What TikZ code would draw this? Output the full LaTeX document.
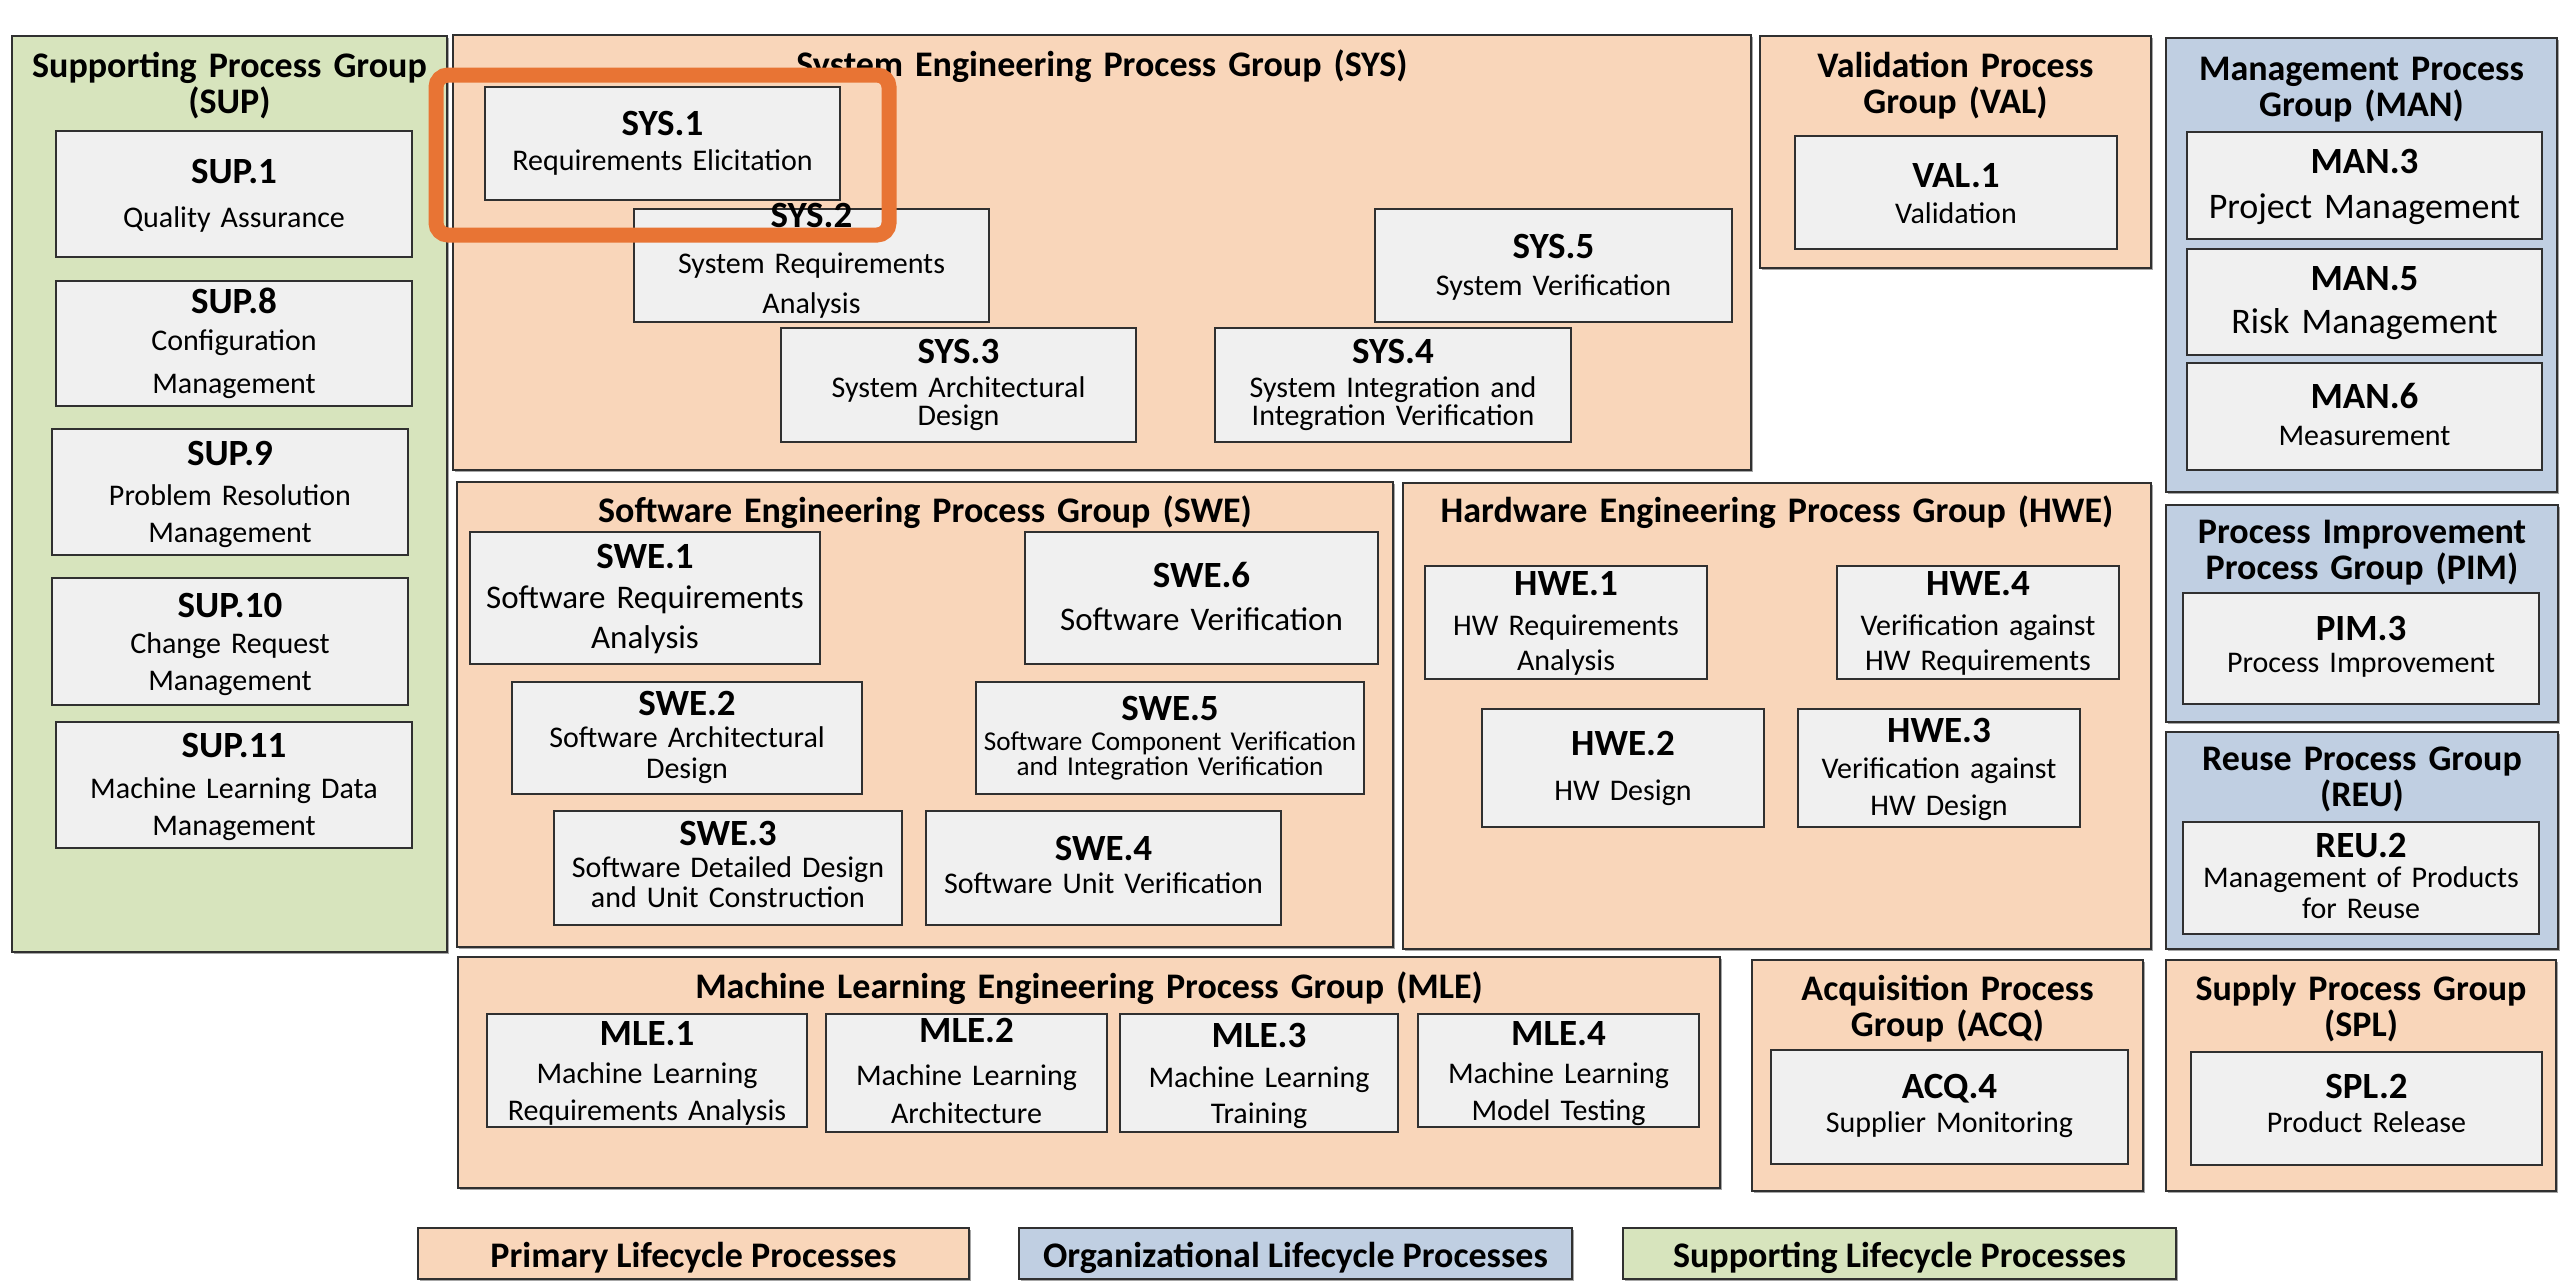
\documentclass[tikz,border=0pt]{standalone}
\usepackage{fontspec}
\setmainfont{Carlito}
\usetikzlibrary{fit,shadows}
\definecolor{peach}{HTML}{F9D6BA}
\definecolor{orgblue}{HTML}{C0CFE2}
\definecolor{supgreen}{HTML}{D7E4BD}
\definecolor{procgray}{HTML}{F0F0F0}
\definecolor{edgegray}{HTML}{303030}
\definecolor{hlorange}{HTML}{E87434}
\begin{document}
\begin{tikzpicture}[x=0.5pt,y=-0.5pt,
  grp/.style={draw=edgegray, line width=1.4pt, inner sep=0pt,
    drop shadow={shadow xshift=0.8pt, shadow yshift=-0.8pt, opacity=0.35, fill=black}},
  prim/.style={grp, fill=peach},
  org/.style={grp, fill=orgblue},
  supp/.style={grp, fill=supgreen},
  proc/.style={draw=edgegray, line width=1.3pt, fill=procgray, inner sep=0pt,
    drop shadow={shadow xshift=0.7pt, shadow yshift=-0.7pt, opacity=0.35, fill=black}},
  gtitle/.style={anchor=base, align=center, inner sep=0pt, text width=#1,
    font={\fontsize{18}{18.3}\selectfont\bfseries}},
  pid/.style={anchor=base, inner sep=0pt, font={\fontsize{18.5}{20}\selectfont\bfseries}},
  pdesc/.style={anchor=base, align=center, inner sep=0pt, text width=#1,
    font={\fontsize{15}{18}\selectfont}},
  legendtext/.style={anchor=base, inner sep=0pt, font={\fontsize{18}{20}\selectfont\bfseries}},
  hl/.style={draw=hlorange, line width=7.5pt, rounded corners=6pt, inner sep=0pt}
]
\useasboundingbox (0,0) rectangle (2560,1281);
\fill[white] (0,0) rectangle (2560,1281);

% ---------------- groups ----------------
\node[supp, fit={(12,36) (447,952)}] (SUP) {};
\node[gtitle=210pt] (SUPt) at (229.5,77) {Supporting Process Group\\(SUP)};
\node[prim, fit={(453,35) (1751,470)}] (SYS) {};
\node[gtitle=600pt] (SYSt) at (1102,76) {System Engineering Process Group (SYS)};
\node[prim, fit={(1760,36) (2151,268)}] (VAL) {};
\node[gtitle=190pt] (VALt) at (1955.5,77) {Validation Process\\Group (VAL)};
\node[org, fit={(2166,38) (2557,492)}] (MAN) {};
\node[gtitle=190pt] (MANt) at (2361.5,80) {Management Process\\Group (MAN)};
\node[prim, fit={(457,482) (1393,947)}] (SWE) {};
\node[gtitle=450pt] (SWEt) at (925,522) {Software Engineering Process Group (SWE)};
\node[prim, fit={(1403,483) (2151,949)}] (HWE) {};
\node[gtitle=370pt] (HWEt) at (1777,522) {Hardware Engineering Process Group (HWE)};
\node[org, fit={(2166,505) (2558,722)}] (PIM) {};
\node[gtitle=190pt] (PIMt) at (2362,543) {Process Improvement\\Process Group (PIM)};
\node[org, fit={(2166,732) (2558,949)}] (REU) {};
\node[gtitle=190pt] (REUt) at (2362,770) {Reuse Process Group\\(REU)};
\node[prim, fit={(458,957) (1720,1188)}] (MLE) {};
\node[gtitle=600pt] (MLEt) at (1089,998) {Machine Learning Engineering Process Group (MLE)};
\node[prim, fit={(1752,960) (2143,1191)}] (ACQ) {};
\node[gtitle=190pt] (ACQt) at (1947.5,1000) {Acquisition Process\\Group (ACQ)};
\node[prim, fit={(2166,960) (2556,1191)}] (SPL) {};
\node[gtitle=190pt] (SPLt) at (2361,1000) {Supply Process Group\\(SPL)};

% ---------------- SUP ----------------
\node[proc, fit={(56,131) (412,257)}] (sup1) {};
\node[pid] (sup1id) at (234,183) {SUP.1};
\node[pdesc=170pt] (sup1d) at (234,227) {Quality Assurance};
\node[proc, fit={(56,281) (412,406)}] (sup8) {};
\node[pid] (sup8id) at (234,313) {SUP.8};
\node[pdesc=170pt, font={\fontsize{15}{21.5}\selectfont}] (sup8d) at (234,350) {Configuration\\Management};
\node[proc, fit={(52,429) (408,555)}] (sup9) {};
\node[pid] (sup9id) at (230,465) {SUP.9};
\node[pdesc=170pt, font={\fontsize{15}{18.5}\selectfont}] (sup9d) at (230,505) {Problem Resolution\\Management};
\node[proc, fit={(52,578) (408,705)}] (sup10) {};
\node[pid] (sup10id) at (230,617) {SUP.10};
\node[pdesc=170pt, font={\fontsize{15}{18.5}\selectfont}] (sup10d) at (230,653) {Change Request\\Management};
\node[proc, fit={(56,722) (412,848)}] (sup11) {};
\node[pid] (sup11id) at (234,757) {SUP.11};
\node[pdesc=170pt, font={\fontsize{15}{18.5}\selectfont}] (sup11d) at (234,798) {Machine Learning Data\\Management};

% ---------------- SYS ----------------
\node[proc, fit={(485,87) (840,200)}] (sys1) {};
\node[pid] (sys1id) at (662.5,135) {SYS.1};
\node[pdesc=170pt] (sys1d) at (662.5,170) {Requirements Elicitation};
\node[proc, fit={(634,209) (989,322)}] (sys2) {};
\node[pid] (sys2id) at (811.5,227) {SYS.2};
\node[pdesc=170pt, font={\fontsize{15}{20}\selectfont}] (sys2d) at (811.5,273) {System Requirements\\Analysis};
\node[proc, fit={(781,328) (1136,442)}] (sys3) {};
\node[pid] (sys3id) at (958.5,363) {SYS.3};
\node[pdesc=170pt, font={\fontsize{15}{14}\selectfont}] (sys3d) at (958.5,397) {System Architectural\\Design};
\node[proc, fit={(1215,328) (1571,442)}] (sys4) {};
\node[pid] (sys4id) at (1393,363) {SYS.4};
\node[pdesc=170pt, font={\fontsize{15}{14}\selectfont}] (sys4d) at (1393,397) {System Integration and\\Integration Verification};
\node[proc, fit={(1375,209) (1732,322)}] (sys5) {};
\node[pid] (sys5id) at (1553.5,258) {SYS.5};
\node[pdesc=170pt] (sys5d) at (1553.5,295) {System Verification};

% ---------------- VAL ----------------
\node[proc, fit={(1795,136) (2117,249)}] (val1) {};
\node[pid] (val1id) at (1956,187) {VAL.1};
\node[pdesc=150pt] (val1d) at (1956,223) {Validation};

% ---------------- MAN ----------------
\node[proc, fit={(2187,132) (2542,239)}] (man3) {};
\node[pid] (man3id) at (2364.5,173) {MAN.3};
\node[pdesc=172pt, font={\fontsize{18}{20}\selectfont}] (man3d) at (2364.5,218) {Project Management};
\node[proc, fit={(2187,249) (2542,355)}] (man5) {};
\node[pid] (man5id) at (2364.5,290) {MAN.5};
\node[pdesc=172pt, font={\fontsize{18}{20}\selectfont}] (man5d) at (2364.5,333) {Risk Management};
\node[proc, fit={(2187,363) (2542,470)}] (man6) {};
\node[pid] (man6id) at (2364.5,408) {MAN.6};
\node[pdesc=172pt] (man6d) at (2364.5,445) {Measurement};

% ---------------- SWE ----------------
\node[proc, fit={(470,532) (820,664)}] (swe1) {};
\node[pid] (swe1id) at (645,568) {SWE.1};
\node[pdesc=172pt, font={\fontsize{16.5}{20}\selectfont}] (swe1d) at (645,608) {Software Requirements\\Analysis};
\node[proc, fit={(1025,532) (1378,664)}] (swe6) {};
\node[pid] (swe6id) at (1201.5,587) {SWE.6};
\node[pdesc=172pt, font={\fontsize{16.5}{20}\selectfont}] (swe6d) at (1201.5,630) {Software Verification};
\node[proc, fit={(512,682) (862,794)}] (swe2) {};
\node[pid] (swe2id) at (687,715) {SWE.2};
\node[pdesc=172pt, font={\fontsize{15}{15.5}\selectfont}] (swe2d) at (687,747) {Software Architectural\\Design};
\node[proc, fit={(976,682) (1364,794)}] (swe5) {};
\node[pid] (swe5id) at (1170,720) {SWE.5};
\node[pdesc=210pt, font={\fontsize{13.6}{12.5}\selectfont}] (swe5d) at (1170,750) {Software Component Verification\\and Integration Verification};
\node[proc, fit={(554,811) (902,925)}] (swe3) {};
\node[pid] (swe3id) at (728,845) {SWE.3};
\node[pdesc=172pt, font={\fontsize{15}{15}\selectfont}] (swe3d) at (728,877) {Software Detailed Design\\and Unit Construction};
\node[proc, fit={(926,811) (1281,925)}] (swe4) {};
\node[pid] (swe4id) at (1103.5,860) {SWE.4};
\node[pdesc=172pt] (swe4d) at (1103.5,893) {Software Unit Verification};

% ---------------- HWE ----------------
\node[proc, fit={(1425,566) (1707,679)}] (hwe1) {};
\node[pid] (hwe1id) at (1566,595) {HWE.1};
\node[pdesc=136pt, font={\fontsize{15}{17.5}\selectfont}] (hwe1d) at (1566,635) {HW Requirements\\Analysis};
\node[proc, fit={(1837,566) (2119,679)}] (hwe4) {};
\node[pid] (hwe4id) at (1978,595) {HWE.4};
\node[pdesc=136pt, font={\fontsize{15}{17.5}\selectfont}] (hwe4d) at (1978,635) {Verification against\\HW Requirements};
\node[proc, fit={(1482,709) (1764,827)}] (hwe2) {};
\node[pid] (hwe2id) at (1623,755) {HWE.2};
\node[pdesc=136pt] (hwe2d) at (1623,800) {HW Design};
\node[proc, fit={(1798,709) (2080,827)}] (hwe3) {};
\node[pid] (hwe3id) at (1939,742) {HWE.3};
\node[pdesc=136pt, font={\fontsize{15}{18.5}\selectfont}] (hwe3d) at (1939,778) {Verification against\\HW Design};

% ---------------- PIM / REU ----------------
\node[proc, fit={(2183,593) (2539,704)}] (pim3) {};
\node[pid] (pim3id) at (2361,640) {PIM.3};
\node[pdesc=172pt] (pim3d) at (2361,672) {Process Improvement};
\node[proc, fit={(2183,822) (2539,934)}] (reu2) {};
\node[pid] (reu2id) at (2361,857) {REU.2};
\node[pdesc=172pt, font={\fontsize{15}{15.5}\selectfont}] (reu2d) at (2361,887) {Management of Products\\for Reuse};

% ---------------- MLE ----------------
\node[proc, fit={(487,1014) (807,1127)}] (mle1) {};
\node[pid] (mle1id) at (647,1045) {MLE.1};
\node[pdesc=156pt, font={\fontsize{15}{18.5}\selectfont}] (mle1d) at (647,1083) {Machine Learning\\Requirements Analysis};
\node[proc, fit={(826,1014) (1107,1132)}] (mle2) {};
\node[pid] (mle2id) at (966.5,1042) {MLE.2};
\node[pdesc=136pt, font={\fontsize{15}{19}\selectfont}] (mle2d) at (966.5,1085) {Machine Learning\\Architecture};
\node[proc, fit={(1120,1014) (1398,1132)}] (mle3) {};
\node[pid] (mle3id) at (1259,1047) {MLE.3};
\node[pdesc=136pt, font={\fontsize{15}{18}\selectfont}] (mle3d) at (1259,1087) {Machine Learning\\Training};
\node[proc, fit={(1418,1014) (1699,1127)}] (mle4) {};
\node[pid] (mle4id) at (1558.5,1045) {MLE.4};
\node[pdesc=136pt, font={\fontsize{15}{18.5}\selectfont}] (mle4d) at (1558.5,1083) {Machine Learning\\Model Testing};

% ---------------- ACQ / SPL ----------------
\node[proc, fit={(1771,1050) (2128,1164)}] (acq4) {};
\node[pid] (acq4id) at (1949.5,1098) {ACQ.4};
\node[pdesc=172pt] (acq4d) at (1949.5,1132) {Supplier Monitoring};
\node[proc, fit={(2191,1052) (2542,1165)}] (spl2) {};
\node[pid] (spl2id) at (2366.5,1098) {SPL.2};
\node[pdesc=170pt] (spl2d) at (2366.5,1132) {Product Release};

% ---------------- legend ----------------
\node[prim, fit={(418,1228) (969,1279)}] (Lprim) {};
\node[legendtext] (Lprimt) at (693.5,1267) {Primary Lifecycle Processes};
\node[org, fit={(1019,1228) (1572,1279)}] (Lorg) {};
\node[legendtext] (Lorgt) at (1295.5,1267) {Organizational Lifecycle Processes};
\node[supp, fit={(1623,1228) (2176,1279)}] (Lsup) {};
\node[legendtext] (Lsupt) at (1899.5,1267) {Supporting Lifecycle Processes};

% ---------------- highlight ----------------
\node[hl, fit={(436,75) (889,235)}] (highlight) {};
\end{tikzpicture}
\end{document}
